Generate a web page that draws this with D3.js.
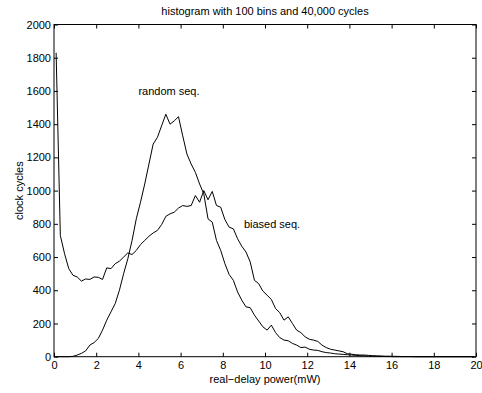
<!DOCTYPE html>
<html>
<head>
<meta charset="utf-8">
<script src="https://cdn.jsdelivr.net/npm/d3@7"></script>
<style>
  body { margin: 0; background: #fff; }
  text { font-family: "Liberation Sans", Arial, Helvetica, sans-serif; }
</style>
</head>
<body>
<div id="chart"></div>
<script>
// Bin centres: 100 bins of width 0.2 over 0..20 mW
const binCenters = d3.range(100).map(i => +(0.1 + i * 0.2).toFixed(1));

// biased sequence counts per bin
const biased = [
  1830, 730, 620, 530, 490, 480, 455, 468, 465, 480,
  478, 465, 535, 530, 560, 575, 600, 625, 615, 640,
  675, 700, 725, 745, 760, 795, 845, 860, 870, 895,
  910, 905, 910, 970, 930, 1000, 945, 995, 910, 900,
  825, 780, 770, 710, 665, 630, 570, 460, 440, 395,
  370, 345, 290, 265, 220, 240, 200, 160, 145, 120,
  105, 100, 92, 70, 55, 45, 40, 35, 30, 18,
  15, 12, 10, 10, 8, 6, 5, 4, 3, 3,
  2, 2, 1, 1, 1, 0, 0, 0, 0, 0,
  0, 0, 0, 0, 0, 0, 0, 0, 0, 0
];

// random sequence counts per bin
const random = [
  0, 0, 0, 0, 2, 10, 20, 35, 70, 85,
  110, 160, 220, 270, 320, 400, 500, 590, 700, 830,
  930, 1040, 1160, 1280, 1320, 1390, 1460, 1400, 1420, 1445,
  1330, 1220, 1160, 1110, 1040, 980, 830, 810, 700, 640,
  560, 495, 460, 390, 340, 300, 295, 250, 215, 180,
  160, 190, 145, 115, 100, 96, 80, 70, 55, 58,
  45, 40, 38, 30, 25, 22, 18, 16, 14, 12,
  10, 8, 6, 5, 4, 3, 2, 2, 1, 1,
  0, 0, 0, 0, 0, 0, 0, 0, 0, 0,
  0, 0, 0, 0, 0, 0, 0, 0, 0, 0
];

const xTicks = [0, 2, 4, 6, 8, 10, 12, 14, 16, 18, 20];
const yTicks = [0, 200, 400, 600, 800, 1000, 1200, 1400, 1600, 1800, 2000];

const labels = [
  { text: "random seq.", x: 4, y: 1600 },
  { text: "biased seq.", x: 9, y: 800 }
];

// Set up the dimensions and margins
const margin = { top: 24.5, right: 6, bottom: 36.3, left: 54 };
const W = 482, H = 393;
const width = W - margin.left - margin.right;
const height = H - margin.top - margin.bottom;

const svg = d3.select("#chart")
  .append("svg")
  .attr("width", W)
  .attr("height", H)
  .append("g")
  .attr("transform", `translate(${margin.left},${margin.top})`);

const x = d3.scaleLinear().domain([0, 20]).range([0, width]);
const y = d3.scaleLinear().domain([0, 2000]).range([height, 0]);

// Axes with inward ticks (box style)
function styleAxis(g) {
  g.select(".domain").remove();
  g.selectAll(".tick line").attr("stroke", "#000");
  g.selectAll(".tick text")
    .attr("fill", "#000")
    .attr("font-size", "11px");
}

svg.append("g")
  .attr("transform", `translate(0,${height})`)
  .call(d3.axisBottom(x).tickValues(xTicks).tickFormat(d3.format("d"))
    .tickSizeInner(-4).tickSizeOuter(0).tickPadding(5))
  .call(styleAxis);

svg.append("g")
  .call(d3.axisLeft(y).tickValues(yTicks).tickFormat(d3.format("d"))
    .tickSizeInner(-4).tickSizeOuter(0).tickPadding(3))
  .call(styleAxis);

svg.append("g")
  .call(d3.axisTop(x).tickValues(xTicks).tickSizeInner(-4).tickSizeOuter(0).tickFormat(""))
  .call(styleAxis);

svg.append("g")
  .attr("transform", `translate(${width},0)`)
  .call(d3.axisRight(y).tickValues(yTicks).tickSizeInner(-4).tickSizeOuter(0).tickFormat(""))
  .call(styleAxis);

// Box
svg.append("rect")
  .attr("width", width)
  .attr("height", height)
  .attr("fill", "none")
  .attr("stroke", "#000")
  .attr("stroke-width", 1);

// Lines
const line = d3.line()
  .x((d, i) => x(binCenters[i]))
  .y(d => y(d));

[biased, random].forEach(series => {
  svg.append("path")
    .datum(series)
    .attr("fill", "none")
    .attr("stroke", "#000")
    .attr("stroke-width", 1)
    .attr("d", line);
});

// Annotations
svg.selectAll(".note")
  .data(labels)
  .enter()
  .append("text")
  .attr("x", d => x(d.x))
  .attr("y", d => y(d.y))
  .attr("dy", "0.35em")
  .attr("font-size", "11px")
  .text(d => d.text);

// Title
svg.append("text")
  .attr("x", width / 2)
  .attr("y", -10)
  .attr("text-anchor", "middle")
  .attr("font-size", "11px")
  .text("histogram with 100 bins and 40,000 cycles");

// x-axis label
svg.append("text")
  .attr("x", width / 2)
  .attr("y", height + 26)
  .attr("text-anchor", "middle")
  .attr("font-size", "11px")
  .text("real\u2212delay power(mW)");

// y-axis label
svg.append("text")
  .attr("transform", "rotate(-90)")
  .attr("x", -height / 2)
  .attr("y", -31)
  .attr("text-anchor", "middle")
  .attr("font-size", "11px")
  .text("clock cycles");
</script>
</body>
</html>
